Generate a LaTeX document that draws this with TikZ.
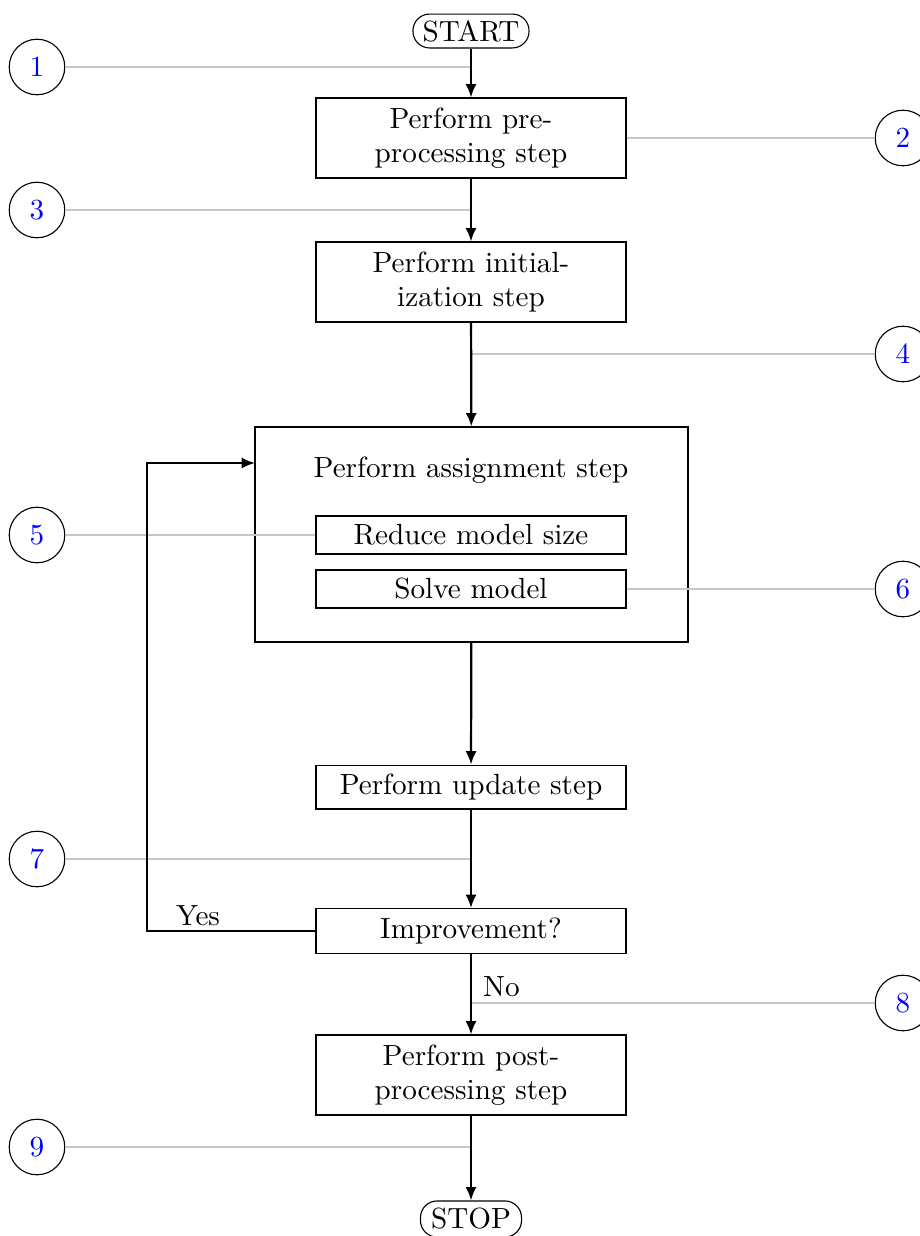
\documentclass[tikz,border=0pt]{standalone}
\usetikzlibrary{arrows.meta,calc}
\begin{document}
\begin{tikzpicture}[x=0.36pt,y=-0.36pt,
  every node/.style={font=\fontsize{10.5}{12.2}\selectfont},
  box/.style={draw,line width=0.4pt,minimum width=111.6pt,inner sep=0pt,align=center},
  term/.style={draw,line width=0.4pt,rounded corners=6pt,inner sep=0pt},
  num/.style={draw,circle,line width=0.4pt,minimum size=20pt,inner sep=0pt,text=blue},
  arr/.style={line width=0.8pt,-{Latex[length=4.8pt,width=4pt]}},
  guide/.style={line width=0.4pt,draw=black!22}
]
\useasboundingbox (0,0) rectangle (920,1236);
% flow nodes
\node[term,minimum width=41.8pt,minimum height=12.2pt] (start) at (471,31) {START};
\node[box,minimum height=28.8pt] (pre) at (471,138) {Perform pre-\\processing step};
\node[box,minimum height=28.8pt] (init) at (471,282) {Perform initial-\\ization step};
\node[draw,line width=0.4pt,minimum width=155.9pt,minimum height=77.4pt,inner sep=0pt] (assign) at (471.5,534.5) {};
\node (atitle) at (471,470) {Perform assignment step};
\node[box,minimum height=13.7pt] (reduce) at (471,535) {Reduce model size};
\node[box,minimum height=13.7pt] (solve) at (471,589) {Solve model};
\node[box,minimum height=15.8pt] (update) at (471,787) {Perform update step};
\node[box,minimum height=16.2pt] (impr) at (471,931) {Improvement?};
\node[box,minimum height=28.8pt] (post) at (471,1075) {Perform post-\\processing step};
\node[term,minimum width=36.4pt,minimum height=13pt] (stop) at (471,1219) {STOP};
% number circles
\node[num] (n1) at (37,67) {1};
\node[num] (n2) at (903,138) {2};
\node[num] (n3) at (37,210) {3};
\node[num] (n4) at (903,354) {4};
\node[num] (n5) at (37,535) {5};
\node[num] (n6) at (903,589) {6};
\node[num] (n7) at (37,859) {7};
\node[num] (n8) at (903,1003) {8};
\node[num] (n9) at (37,1147) {9};
% guide coordinates
\coordinate (g1) at (471,67);
\coordinate (g3) at (471,210);
\coordinate (g4) at (471,354);
\coordinate (g7) at (471,859);
\coordinate (g8) at (471,1003);
\coordinate (g9) at (471,1147);
\coordinate (loopa) at (147,931);
\coordinate (loopb) at (255,463);
% guide lines
\draw[guide] (n1.east) -- (g1);
\draw[guide] (pre.east) -- (n2.west);
\draw[guide] (n3.east) -- (g3);
\draw[guide] (g4) -- (n4.west);
\draw[guide] (n5.east) -- (reduce.west);
\draw[guide] (solve.east) -- (n6.west);
\draw[guide] (n7.east) -- (g7);
\draw[guide] (g8) -- (n8.west);
\draw[guide] (n9.east) -- (g9);
% flow arrows
\draw[arr] (start) -- (pre);
\draw[arr] (pre) -- (init);
\draw[arr] (init) -- (assign);
\draw[arr] (assign) -- (update);
\draw[arr] (update) -- (impr);
\draw[arr] (impr) -- node[pos=0.4,right,inner sep=4pt] (no) {No} (post);
\draw[arr] (post) -- (stop);
\draw[arr] (impr.west) -- (loopa) |- (loopb);
\node (yes) at (198,916) {Yes};
\end{tikzpicture}
\end{document}
